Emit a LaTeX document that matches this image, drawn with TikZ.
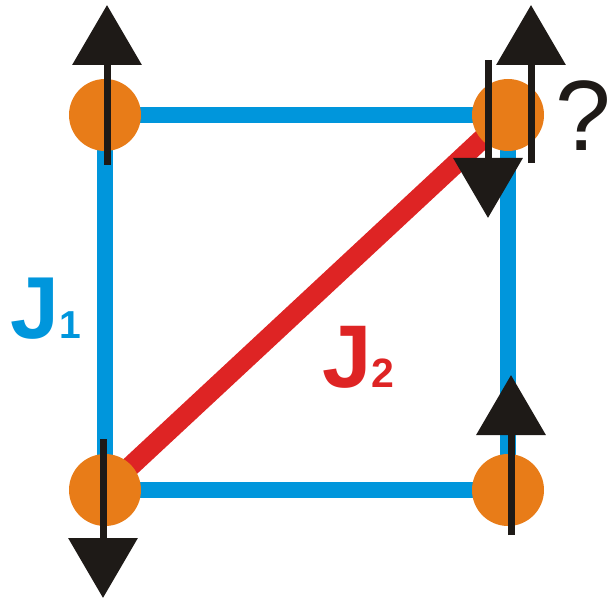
\documentclass[tikz,border=0pt]{standalone}
\usepackage{fontspec}
\setmainfont{Liberation Sans}
\usetikzlibrary{arrows.meta}
\definecolor{bondblue}{RGB}{0,150,220}
\definecolor{bondred}{RGB}{222,36,36}
\definecolor{siteorange}{RGB}{232,124,24}
\definecolor{spinblack}{RGB}{30,26,23}
\tikzset{
  site/.style={circle, fill=siteorange, minimum size=72pt, inner sep=0pt},
  jone/.style={draw=bondblue, line width=16pt},
  jtwo/.style={draw=bondred, line width=20pt},
  spin/.style={draw=spinblack, line width=7pt, -{Triangle[width=68pt,length=60pt]}},
  lbl/.style={inner sep=0pt, anchor=base west}
}
\begin{document}
\begin{tikzpicture}[x=1pt,y=-1pt]
\useasboundingbox (0,0) rectangle (611,599);
% site positions
\coordinate (ptl) at (105,115);
\coordinate (ptr) at (508,115);
\coordinate (pbl) at (105,490);
\coordinate (pbr) at (508,490);
% bonds
\draw[jone] (ptl) -- (ptr) -- (pbr) -- (pbl) -- cycle;
\draw[jtwo] (pbl) -- (ptr);
% sites
\node[site] (tl) at (ptl) {};
\node[site] (tr) at (ptr) {};
\node[site] (bl) at (pbl) {};
\node[site] (br) at (pbr) {};
% spins
\coordinate (s1a) at (107,165); \coordinate (s1b) at (107,5);
\coordinate (s2a) at (488,60);  \coordinate (s2b) at (488,218);
\coordinate (s3a) at (531,163); \coordinate (s3b) at (531,5);
\coordinate (s4a) at (103,439); \coordinate (s4b) at (103,598);
\coordinate (s5a) at (511,535); \coordinate (s5b) at (511,375);
\draw[spin] (s1a) -- (s1b);
\draw[spin] (s2a) -- (s2b);
\draw[spin] (s3a) -- (s3b);
\draw[spin] (s4a) -- (s4b);
\draw[spin] (s5a) -- (s5b);
% labels
\node[lbl, text=bondblue] (j1) at (10,338) {\fontsize{88}{88}\selectfont\bfseries J\fontsize{39}{39}\selectfont 1};
\node[lbl, text=bondred] (j2) at (322,387) {\fontsize{89}{89}\selectfont\bfseries J\fontsize{41}{41}\selectfont 2};
\node[inner sep=0pt, anchor=base east, text=spinblack] (q) at (611,151) {\fontsize{100}{100}\selectfont ?};
\end{tikzpicture}
\end{document}
